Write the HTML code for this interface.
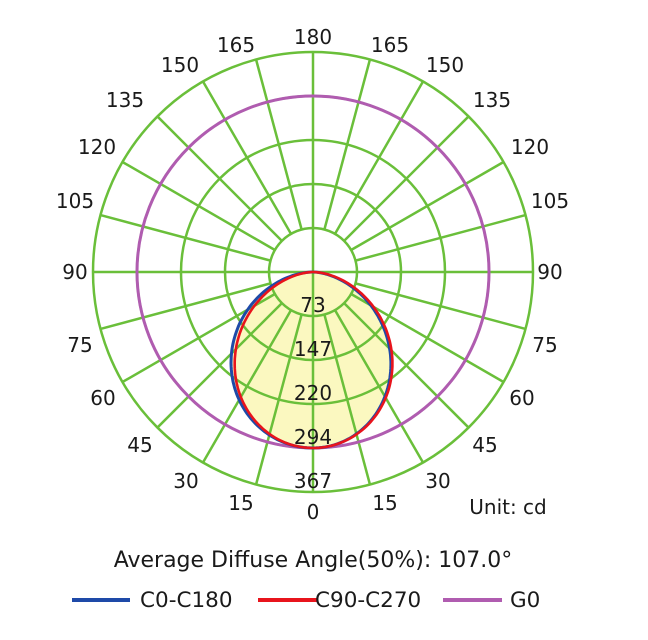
<!DOCTYPE html>
<html><head><meta charset="utf-8"><style>
html,body{margin:0;padding:0;background:#fff;width:648px;height:640px;overflow:hidden}
svg text{font-family:"DejaVu Sans","Liberation Sans",sans-serif;fill:#1a1a1a;font-size:20px}
svg text.lg{font-size:21.5px}
</style></head><body>
<svg id="s" width="648" height="640" xmlns="http://www.w3.org/2000/svg">
<path id="fill" fill="#fbf8c0" stroke="none"/>
<g id="grid" stroke="#6abf3a" stroke-width="2.5" fill="none"></g>
<circle cx="313" cy="272" r="176" fill="none" stroke="#b05cb0" stroke-width="3"/>
<path id="blue" fill="none" stroke="#1e4aa8" stroke-width="3"/>
<path id="red" fill="none" stroke="#e8141c" stroke-width="2.6"/>
<g id="labs" text-anchor="middle"></g>
<text x="508" y="514" text-anchor="middle">Unit: cd</text>
<text x="313" y="567" text-anchor="middle" style="font-size:22px">Average Diffuse Angle(50%): 107.0°</text>
<line x1="72" y1="600" x2="130" y2="600" stroke="#1e4aa8" stroke-width="4"/>
<text class="lg" x="140" y="607">C0-C180</text>
<line x1="258" y1="600" x2="318" y2="600" stroke="#e8141c" stroke-width="4"/>
<text class="lg" x="315" y="607">C90-C270</text>
<line x1="443" y1="600" x2="502" y2="600" stroke="#b05cb0" stroke-width="4"/>
<text class="lg" x="510" y="607">G0</text>
</svg>
<script>
var cx=313,cy=272,ns="http://www.w3.org/2000/svg";
var g=document.getElementById('grid'),L=document.getElementById('labs');
function el(t,a,p){var e=document.createElementNS(ns,t);for(var k in a)e.setAttribute(k,a[k]);(p||g).appendChild(e);return e;}
function curve(kl,kr,D){var pts=[];
 for(var a=-90;a<=90;a+=1){var t=a*Math.PI/180,k=a<0?kl:kr;var r=D*Math.pow(Math.cos(t),k);
  pts.push((cx+r*Math.sin(t)).toFixed(1)+','+(cy+r*Math.cos(t)).toFixed(1));}
 return 'M'+pts.join(' L')+'Z';}
document.getElementById('fill').setAttribute('d',curve(1.25,1.35,176));
document.getElementById('blue').setAttribute('d',curve(1.22,1.4,176));
document.getElementById('red').setAttribute('d',curve(1.38,1.33,176));
[44,88,132,176,220].forEach(function(r){el('circle',{cx:cx,cy:cy,r:r});});
for(var a=0;a<360;a+=15){var t=a*Math.PI/180,s=Math.sin(t),c=Math.cos(t);
 var r0=(a%90==0)?0:44;
 el('line',{x1:cx+r0*s,y1:cy+r0*c,x2:cx+220*s,y2:cy+220*c});}
var lab=[[313,44,'180'],[236,52,'165'],[180,72,'150'],[125,107,'135'],[97,154,'120'],[75,208,'105'],[75,279,'90'],
[390,52,'165'],[445,72,'150'],[492,107,'135'],[530,154,'120'],[550,208,'105'],[550,279,'90'],
[80,352,'75'],[103,405,'60'],[140,452,'45'],[186,488,'30'],[241,510,'15'],[313,519,'0'],
[385,510,'15'],[438,488,'30'],[485,452,'45'],[522,405,'60'],[545,352,'75'],
[313,312,'73'],[313,356,'147'],[313,400,'220'],[313,444,'294'],[313,488,'367']];
lab.forEach(function(l){var e=el('text',{x:l[0],y:l[1]},L);e.textContent=l[2];});
</script>
</body></html>
